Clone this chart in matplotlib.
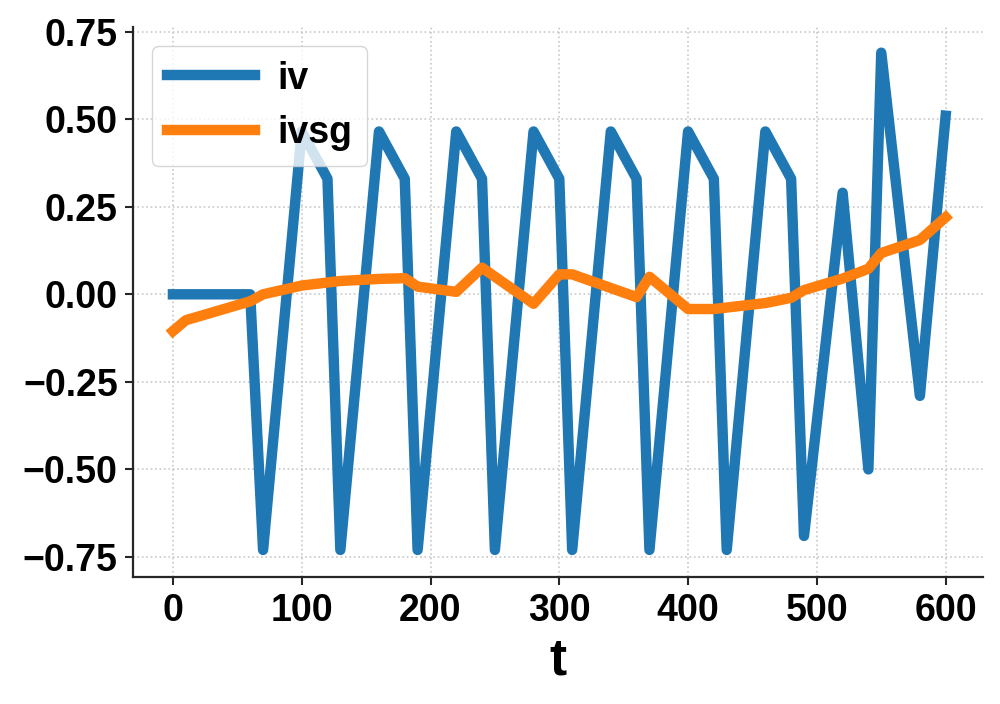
import matplotlib
matplotlib.use('Agg')
import matplotlib.pyplot as plt

# iv series (vertices)
t_iv = [0, 60, 70, 100, 120, 130, 160, 180, 190, 220, 240, 250, 280, 300, 310,
        340, 360, 370, 400, 420, 430, 460, 480, 490, 520, 540, 550, 580, 600]
iv = [0.0, 0.0, -0.73, 0.465, 0.33, -0.73, 0.465, 0.33, -0.73, 0.465, 0.33, -0.73,
      0.465, 0.33, -0.73, 0.465, 0.33, -0.73, 0.465, 0.33, -0.73, 0.465, 0.33,
      -0.69, 0.29, -0.50, 0.69, -0.29, 0.51]

# smoothed series (ivsg)
t_sg = [0, 10, 60, 70, 100, 130, 160, 180, 190, 220, 240, 280, 300, 310, 360,
        370, 400, 420, 460, 480, 490, 520, 540, 550, 580, 600]
ivsg = [-0.105, -0.074, -0.02, 0.0, 0.025, 0.038, 0.044, 0.046, 0.022, 0.007,
        0.076, -0.027, 0.057, 0.057, -0.008, 0.05, -0.042, -0.042, -0.025,
        -0.01, 0.012, 0.045, 0.073, 0.118, 0.155, 0.22]

plt.rcParams['font.family'] = ['Liberation Sans', 'DejaVu Sans']
plt.rcParams['font.weight'] = 'bold'

fig, ax = plt.subplots(figsize=(10, 7.04), dpi=100)
fig.subplots_adjust(left=0.133, right=0.983, top=0.962, bottom=0.18)

ax.plot(t_iv, iv, color='#1f77b4', lw=7.5, label='iv', solid_joinstyle='round')
ax.plot(t_sg, ivsg, color='#ff7f0e', lw=7.5, label='ivsg', solid_joinstyle='round')

ax.set_xlim(-31, 629)
ax.set_ylim(-0.808, 0.764)
ax.set_xticks([0, 100, 200, 300, 400, 500, 600])
ax.set_yticks([-0.75, -0.5, -0.25, 0.0, 0.25, 0.5, 0.75])
ax.set_yticklabels(['\u22120.75', '\u22120.50', '\u22120.25', '0.00', '0.25', '0.50', '0.75'])

ax.grid(True, linestyle=':', color='#c8c8c8', lw=1.2)
ax.set_axisbelow(True)
for s in ['top', 'right']:
    ax.spines[s].set_visible(False)
for s in ['left', 'bottom']:
    ax.spines[s].set_linewidth(1.6)
    ax.spines[s].set_color('#262626')

ax.tick_params(axis='both', labelsize=27, length=6, width=1.5, color='#262626', pad=5)
for lab in ax.get_xticklabels() + ax.get_yticklabels():
    lab.set_fontweight('bold')

ax.set_xlabel('t', fontsize=37, fontweight='bold', labelpad=6)

leg = ax.legend(loc='upper left', handlelength=2.35, handletextpad=0.6,
                borderaxespad=0.5, prop={'size': 27, 'weight': 'bold'})

fig.savefig('out.png', dpi=100)
